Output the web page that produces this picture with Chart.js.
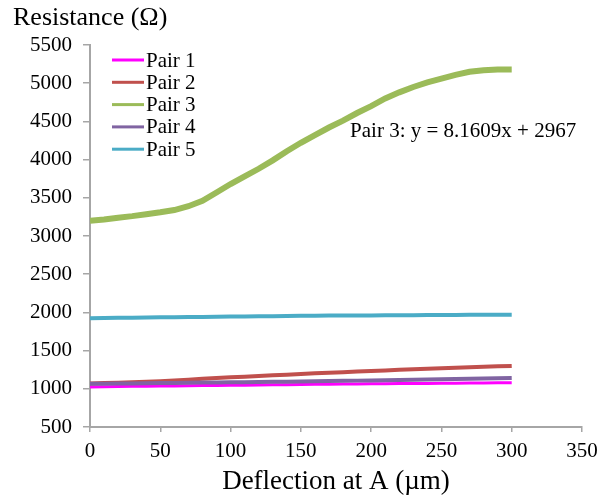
<!DOCTYPE html>
<html>
<head>
<meta charset="utf-8">
<style>
  html, body { margin: 0; padding: 0; background: #fff; }
  #wrap { width: 611px; height: 499px; }
</style>
<script src="https://cdn.jsdelivr.net/npm/chart.js@4.4.0/dist/chart.umd.min.js"></script>
</head>
<body>
<div id="wrap"><canvas id="chart" width="611" height="499"></canvas></div>
<script>
// deflection at A, micrometres
const deflection = [0, 10, 20, 30, 40, 50, 60, 70, 80, 90, 100, 110, 120, 130, 140, 150,
  160, 170, 180, 190, 200, 210, 220, 230, 240, 250, 260, 270, 280, 290, 300];

const pair1 = [1025, 1027, 1030, 1032, 1034, 1036, 1038, 1040, 1042, 1044, 1046, 1048, 1050, 1052, 1054, 1056,
  1058, 1060, 1062, 1064, 1065, 1067, 1068, 1070, 1071, 1073, 1074, 1076, 1077, 1079, 1080];
const pair2 = [1070, 1075, 1080, 1085, 1092, 1100, 1110, 1120, 1130, 1140, 1150, 1158, 1167, 1176, 1185, 1194,
  1202, 1210, 1218, 1226, 1234, 1241, 1248, 1255, 1262, 1269, 1276, 1283, 1290, 1295, 1300];
const pair3 = [3200, 3215, 3240, 3260, 3285, 3310, 3340, 3390, 3460, 3570, 3680, 3780, 3880, 3990, 4110, 4220,
  4320, 4420, 4510, 4610, 4700, 4800, 4880, 4950, 5010, 5060, 5110, 5150, 5170, 5180, 5180];
const pair4 = [1065, 1067, 1069, 1071, 1073, 1075, 1077, 1079, 1081, 1083, 1085, 1087, 1089, 1091, 1093, 1095,
  1098, 1101, 1104, 1107, 1110, 1113, 1116, 1119, 1122, 1125, 1128, 1131, 1134, 1137, 1140];
const pair5 = [1925, 1927, 1929, 1931, 1933, 1935, 1937, 1939, 1941, 1943, 1945, 1947, 1949, 1951, 1953, 1955,
  1957, 1958, 1959, 1960, 1961, 1962, 1963, 1964, 1965, 1966, 1967, 1968, 1969, 1970, 1970];

const seriesNames = ["Pair 1", "Pair 2", "Pair 3", "Pair 4", "Pair 5"];
const seriesValues = [pair1, pair2, pair3, pair4, pair5];
const seriesColors = ["#ff00ff", "#c0504d", "#9bbb59", "#8064a2", "#4bacc6"];
const seriesWidths = [3, 4, 6, 4, 4];

const yTicks = [500, 1000, 1500, 2000, 2500, 3000, 3500, 4000, 4500, 5000, 5500];
const xTicks = [0, 50, 100, 150, 200, 250, 300, 350];

const fitLabel = "Pair 3: y = 8.1609x + 2967";
const fitAt = { x: 185, y: 4370 };

const serif = "'Liberation Serif', 'Times New Roman', serif";
const axisGray = "#a6a6a6";

const datasets = seriesNames.map((name, i) => ({
  label: name,
  data: deflection.map((d, j) => ({ x: d, y: seriesValues[i][j] })),
  borderColor: seriesColors[i],
  backgroundColor: seriesColors[i],
  borderWidth: seriesWidths[i],
  pointRadius: 0,
  tension: 0,
  order: seriesNames.length - i,
}));

// legend, axis title and fit label drawn by hand
const extras = {
  id: "extras",
  afterDraw(chart) {
    const c = chart.ctx;
    const area = chart.chartArea;
    c.save();
    c.fillStyle = "#000";
    c.textBaseline = "middle";
    c.textAlign = "left";

    c.font = "26px " + serif;
    c.fillText("Resistance (Ω)", 13, 18);

    c.font = "21px " + serif;
    seriesNames.forEach((name, i) => {
      const y = area.top + 15 + i * 22.3;
      c.strokeStyle = seriesColors[i];
      c.lineWidth = 3;
      c.beginPath();
      c.moveTo(area.left + 22, y);
      c.lineTo(area.left + 54, y);
      c.stroke();
      c.fillText(name, area.left + 56, y + 1);
    });

    const sx = chart.scales.x, sy = chart.scales.y;
    c.fillText(fitLabel, sx.getPixelForValue(fitAt.x), sy.getPixelForValue(fitAt.y));
    c.restore();
  }
};

new Chart(document.getElementById("chart"), {
  type: "line",
  data: { datasets },
  options: {
    responsive: false,
    animation: false,
    layout: { padding: { top: 45, right: 29, left: 0, bottom: 0 } },
    plugins: { legend: { display: false }, tooltip: { enabled: false } },
    scales: {
      x: {
        type: "linear",
        min: 0,
        max: 350,
        afterBuildTicks: s => { s.ticks = xTicks.map(v => ({ value: v })); },
        afterFit: s => { s.height = 72; },
        ticks: { color: "#000", font: { family: serif, size: 21 }, padding: 7, maxRotation: 0,
          callback: v => String(v) },
        grid: { drawOnChartArea: false, drawTicks: true, tickLength: 5, color: axisGray, lineWidth: 1.5 },
        border: { color: axisGray, width: 2 },
        title: {
          display: true,
          text: "Deflection at A (µm)",
          color: "#000",
          font: { family: serif, size: 27 },
          padding: { top: 0, bottom: 1 },
        },
      },
      y: {
        type: "linear",
        min: 500,
        max: 5500,
        afterBuildTicks: s => { s.ticks = yTicks.map(v => ({ value: v })); },
        afterFit: s => { s.width = 90; },
        ticks: { color: "#000", font: { family: serif, size: 21 }, padding: 11,
          callback: v => String(v) },
        grid: { drawOnChartArea: false, drawTicks: true, tickLength: 7, color: axisGray, lineWidth: 1.5 },
        border: { color: axisGray, width: 2 },
      },
    },
  },
  plugins: [extras],
});
</script>
</body>
</html>
